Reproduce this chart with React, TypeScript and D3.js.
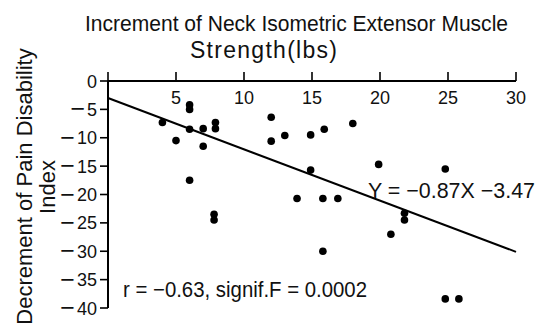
import React from "react";
import * as d3 from "d3";

// Increment of neck isometric extensor muscle strength (lbs)
const strengthGain: number[] = [
  4, 5, 6, 6, 6, 6, 7, 7, 7.9, 7.9, 7.8, 7.8, 12, 12, 13, 14.9, 14.9, 15.9, 18,
  13.9, 15.8, 16.9, 15.8, 19.9, 24.8, 21.8, 21.8, 20.8, 24.8, 25.8,
];
// Decrement of pain disability index
const disabilityDrop: number[] = [
  -7.3, -10.5, -4.2, -5.0, -8.5, -17.5, -8.4, -11.5, -7.3, -8.4, -23.5, -24.5,
  -6.4, -10.6, -9.6, -9.5, -15.7, -8.5, -7.5, -20.7, -20.7, -20.7, -30.0,
  -14.7, -15.5, -23.3, -24.5, -27.0, -38.4, -38.4,
];
// Regression line endpoints as drawn
const fitX: number[] = [0, 30];
const fitY: number[] = [-3.0, -30.1];

const xTicks: number[] = [5, 10, 15, 20, 25, 30];
const xTickMarks: number[] = [0, 5, 10, 15, 20, 25, 30];
const yTicks: number[] = [0, -5, -10, -15, -20, -25, -30, -35, -40];

const titleLines: string[] = ["Increment of Neck Isometric Extensor Muscle", "Strength(lbs)"];
const yLabelLines: string[] = ["Decrement of Pain Disability", "Index"];
const equationText = "Y = −0.87X −3.47";
const statText = "r = −0.63, signif.F = 0.0002";

const FONT = "'Liberation Sans', Arial, sans-serif";

export default function App() {
  const x = d3.scaleLinear().domain([0, 30]).range([108, 516]);
  const y = d3.scaleLinear().domain([0, -40]).range([81, 308]);
  const line = d3
    .line<number>()
    .x((d) => x(fitX[d]))
    .y((d) => y(fitY[d]));

  return (
    <svg
      width={545}
      height={328}
      style={{ position: "absolute", left: 0, top: 0, background: "#fff" }}
      fontFamily={FONT}
    >
      <rect width={545} height={328} fill="#fff" />
      {/* Title */}
      <text x={296.5} y={31} fontSize={22} textAnchor="middle" textLength={423} lengthAdjust="spacingAndGlyphs" fill="#111">
        {titleLines[0]}
      </text>
      <text x={263.5} y={58} fontSize={23} textAnchor="middle" textLength={147} lengthAdjust="spacing" fill="#111">
        {titleLines[1]}
      </text>
      {/* Y label */}
      <text
        transform="translate(32,186.5) rotate(-90)"
        fontSize={22}
        textAnchor="middle"
        fill="#111"
      >
        {yLabelLines[0]}
      </text>
      <text
        transform="translate(55,187) rotate(-90)"
        fontSize={22}
        textAnchor="middle"
        fill="#111"
      >
        {yLabelLines[1]}
      </text>

      {/* Axes */}
      <line x1={x(0)} x2={x(30)} y1={y(0)} y2={y(0)} stroke="#000" strokeWidth={2} />
      <line x1={x(0)} x2={x(0)} y1={y(0)} y2={y(-40)} stroke="#000" strokeWidth={2} />
      {xTickMarks.map((t) => (
        <line key={"xt" + t} x1={x(t)} x2={x(t)} y1={y(0)} y2={y(0) - 9} stroke="#000" strokeWidth={1.6} />
      ))}
      {xTicks.map((t) => (
        <text key={"xl" + t} x={x(t)} y={104} fontSize={18} textAnchor="middle" fill="#111">
          {t}
        </text>
      ))}
      {yTicks.map((t) => (
        <g key={"yt" + t}>
          <line x1={x(0) - 8} x2={x(0)} y1={y(t)} y2={y(t)} stroke="#000" strokeWidth={1.6} />
          <text x={97} y={y(t) + 6.5} fontSize={18} textAnchor="end" fill="#111">
            {t < 0 ? (
              <>
                <tspan fontSize={25} dy={1.5}>−</tspan>
                <tspan dx={2} dy={-1.5}>{Math.abs(t)}</tspan>
              </>
            ) : (
              String(t)
            )}
          </text>
        </g>
      ))}

      {/* Regression line */}
      <path d={line([0, 1]) || ""} fill="none" stroke="#000" strokeWidth={2} />

      {/* Points */}
      {strengthGain.map((v, i) => (
        <circle key={"p" + i} cx={x(v)} cy={y(disabilityDrop[i])} r={3.8} fill="#000" />
      ))}

      {/* Annotations */}
      <text x={368} y={198} fontSize={22} textLength={167} lengthAdjust="spacingAndGlyphs" fill="#111">
        {equationText}
      </text>
      <text x={123} y={297} fontSize={22} textLength={244} lengthAdjust="spacingAndGlyphs" fill="#111">
        {statText}
      </text>
    </svg>
  );
}
